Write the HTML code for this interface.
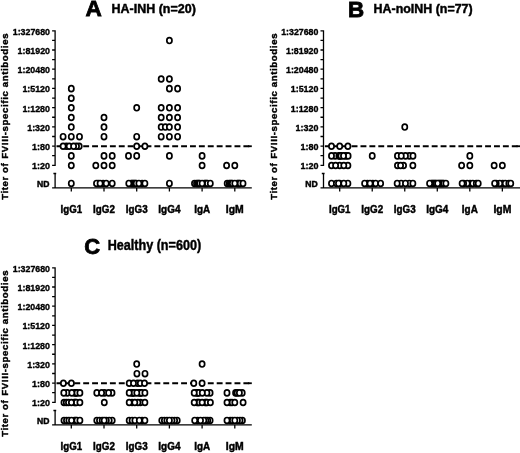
<!DOCTYPE html>
<html><head><meta charset="utf-8"><title>Figure</title>
<style>
html,body{margin:0;padding:0;background:#fff}
svg{display:block}
.b{font-family:"Liberation Sans",Arial,sans-serif;font-weight:bold;fill:#000;stroke:#000;stroke-width:0.45}
.L{stroke-width:0.8}
.yt{stroke-width:0.4}
.tk{stroke-width:0.35}
.ax{fill:none;stroke:#000;stroke-width:1.3}
.dash{fill:none;stroke:#000;stroke-width:1.8;stroke-dasharray:5.9 3;stroke-dashoffset:7.5}
.c ellipse{fill:#fff;stroke:#000;stroke-width:1.7}
</style></head><body>
<svg width="520" height="453" viewBox="0 0 520 453">
<rect width="520" height="453" fill="#fff"/>
<g transform="translate(0,0)">
<text x="93.6" y="16.2" text-anchor="middle" font-size="22.6" class="b L">A</text>
<text x="111.6" y="12.9" font-size="12.5" class="b" textLength="84.2" lengthAdjust="spacingAndGlyphs">HA-INH (n=20)</text>
<text transform="translate(8.4,199.8) rotate(-90)" font-size="9.6" class="b yt" textLength="36.4" lengthAdjust="spacing">Titer of</text>
<text transform="translate(8.4,158.7) rotate(-90)" font-size="9.6" class="b yt" textLength="125.2" lengthAdjust="spacing">FVIII-specific antibodies</text>
<path d="M55.1 30.19V165.9M55.1 172.9V188.5M55.1 165.3h-3M55.1 155.69h-3M55.1 146.08h-3M55.1 136.48h-3M55.1 126.87h-3M55.1 117.26h-3M55.1 107.65h-3M55.1 98.04h-3M55.1 88.44h-3M55.1 78.83h-3M55.1 69.22h-3M55.1 59.61h-3M55.1 50h-3M55.1 40.4h-3M55.1 30.79h-3M53.4 173.5h2.8M52.1 187.9H251.8M71.3 187.9v3.6M104 187.9v3.6M136.7 187.9v3.6M169.4 187.9v3.6M202.1 187.9v3.6M234.8 187.9v3.6" class="ax"/>
<path d="M55.1 146.23H251.8" class="dash"/>
<path d="M248 146.23H251.8" class="dash" style="stroke-dasharray:none"/>
<text x="50" y="34.69" text-anchor="end" font-size="9.1" class="b tk" textLength="37.2" lengthAdjust="spacingAndGlyphs">1:327680</text>
<text x="50" y="53.9" text-anchor="end" font-size="9.1" class="b tk" textLength="32.4" lengthAdjust="spacingAndGlyphs">1:81920</text>
<text x="50" y="73.12" text-anchor="end" font-size="9.1" class="b tk" textLength="32.4" lengthAdjust="spacingAndGlyphs">1:20480</text>
<text x="50" y="92.34" text-anchor="end" font-size="9.1" class="b tk" textLength="27.6" lengthAdjust="spacingAndGlyphs">1:5120</text>
<text x="50" y="111.55" text-anchor="end" font-size="9.1" class="b tk" textLength="27.6" lengthAdjust="spacingAndGlyphs">1:1280</text>
<text x="50" y="130.77" text-anchor="end" font-size="9.1" class="b tk" textLength="22.8" lengthAdjust="spacingAndGlyphs">1:320</text>
<text x="50" y="149.98" text-anchor="end" font-size="9.1" class="b tk" textLength="18" lengthAdjust="spacingAndGlyphs">1:80</text>
<text x="50" y="169.2" text-anchor="end" font-size="9.1" class="b tk" textLength="18" lengthAdjust="spacingAndGlyphs">1:20</text>
<text x="49.4" y="187" text-anchor="end" font-size="8.6" class="b">ND</text>
<text x="71.3" y="213" text-anchor="middle" font-size="10.2" class="b" textLength="21.5" lengthAdjust="spacingAndGlyphs">IgG1</text>
<text x="104" y="213" text-anchor="middle" font-size="10.2" class="b" textLength="21.8" lengthAdjust="spacingAndGlyphs">IgG2</text>
<text x="136.7" y="213" text-anchor="middle" font-size="10.2" class="b" textLength="21.8" lengthAdjust="spacingAndGlyphs">IgG3</text>
<text x="169.4" y="213" text-anchor="middle" font-size="10.2" class="b" textLength="22.1" lengthAdjust="spacingAndGlyphs">IgG4</text>
<text x="202.1" y="213" text-anchor="middle" font-size="10.2" class="b" textLength="15.9" lengthAdjust="spacingAndGlyphs">IgA</text>
<text x="234.8" y="213" text-anchor="middle" font-size="10.2" class="b" textLength="17.9" lengthAdjust="spacingAndGlyphs">IgM</text>
<g class="c">
<ellipse cx="71.3" cy="88.64" rx="2.58" ry="2.92"/>
<ellipse cx="71.3" cy="98.24" rx="2.58" ry="2.92"/>
<ellipse cx="71.3" cy="107.85" rx="2.58" ry="2.92"/>
<ellipse cx="71.3" cy="117.46" rx="2.58" ry="2.92"/>
<ellipse cx="71.3" cy="127.07" rx="2.58" ry="2.92"/>
<ellipse cx="63.1" cy="136.68" rx="2.58" ry="2.92"/>
<ellipse cx="71.3" cy="136.68" rx="2.58" ry="2.92"/>
<ellipse cx="79.5" cy="136.68" rx="2.58" ry="2.92"/>
<ellipse cx="66.3" cy="146.28" rx="2.58" ry="2.92"/>
<ellipse cx="79.2" cy="146.28" rx="2.58" ry="2.92"/>
<ellipse cx="76.5" cy="146.28" rx="2.58" ry="2.92"/>
<ellipse cx="63.1" cy="146.28" rx="2.58" ry="2.92"/>
<ellipse cx="69.2" cy="146.28" rx="2.58" ry="2.92"/>
<ellipse cx="73.6" cy="146.28" rx="2.58" ry="2.92"/>
<ellipse cx="71.3" cy="155.89" rx="2.58" ry="2.92"/>
<ellipse cx="71.3" cy="165.5" rx="2.58" ry="2.92"/>
<ellipse cx="71.3" cy="183.4" rx="2.58" ry="2.92"/>
<ellipse cx="104" cy="117.46" rx="2.58" ry="2.92"/>
<ellipse cx="104" cy="127.07" rx="2.58" ry="2.92"/>
<ellipse cx="104" cy="136.68" rx="2.58" ry="2.92"/>
<ellipse cx="104" cy="155.89" rx="2.58" ry="2.92"/>
<ellipse cx="112.2" cy="155.89" rx="2.58" ry="2.92"/>
<ellipse cx="95.8" cy="165.5" rx="2.58" ry="2.92"/>
<ellipse cx="104" cy="165.5" rx="2.58" ry="2.92"/>
<ellipse cx="112.2" cy="165.5" rx="2.58" ry="2.92"/>
<ellipse cx="98.2" cy="183.4" rx="2.58" ry="2.92"/>
<ellipse cx="103.1" cy="183.4" rx="2.58" ry="2.92"/>
<ellipse cx="96.5" cy="183.4" rx="2.58" ry="2.92"/>
<ellipse cx="112.2" cy="183.4" rx="2.58" ry="2.92"/>
<ellipse cx="100.1" cy="183.4" rx="2.58" ry="2.92"/>
<ellipse cx="106.2" cy="183.4" rx="2.58" ry="2.92"/>
<ellipse cx="136.7" cy="107.85" rx="2.58" ry="2.92"/>
<ellipse cx="136.7" cy="136.68" rx="2.58" ry="2.92"/>
<ellipse cx="136.7" cy="146.28" rx="2.58" ry="2.92"/>
<ellipse cx="144.9" cy="146.28" rx="2.58" ry="2.92"/>
<ellipse cx="128.5" cy="155.89" rx="2.58" ry="2.92"/>
<ellipse cx="136.7" cy="155.89" rx="2.58" ry="2.92"/>
<ellipse cx="131.2" cy="183.4" rx="2.58" ry="2.92"/>
<ellipse cx="132.2" cy="183.4" rx="2.58" ry="2.92"/>
<ellipse cx="133.2" cy="183.4" rx="2.58" ry="2.92"/>
<ellipse cx="134.2" cy="183.4" rx="2.58" ry="2.92"/>
<ellipse cx="135.2" cy="183.4" rx="2.58" ry="2.92"/>
<ellipse cx="136.2" cy="183.4" rx="2.58" ry="2.92"/>
<ellipse cx="142.1" cy="183.4" rx="2.58" ry="2.92"/>
<ellipse cx="128.8" cy="183.4" rx="2.58" ry="2.92"/>
<ellipse cx="144.9" cy="183.4" rx="2.58" ry="2.92"/>
<ellipse cx="138.9" cy="183.4" rx="2.58" ry="2.92"/>
<ellipse cx="169.4" cy="40.6" rx="2.58" ry="2.92"/>
<ellipse cx="161.2" cy="79.03" rx="2.58" ry="2.92"/>
<ellipse cx="169.4" cy="79.03" rx="2.58" ry="2.92"/>
<ellipse cx="169.4" cy="88.64" rx="2.58" ry="2.92"/>
<ellipse cx="177.6" cy="88.64" rx="2.58" ry="2.92"/>
<ellipse cx="161.2" cy="107.85" rx="2.58" ry="2.92"/>
<ellipse cx="169.4" cy="107.85" rx="2.58" ry="2.92"/>
<ellipse cx="177.6" cy="107.85" rx="2.58" ry="2.92"/>
<ellipse cx="161.2" cy="117.46" rx="2.58" ry="2.92"/>
<ellipse cx="169.4" cy="117.46" rx="2.58" ry="2.92"/>
<ellipse cx="177.6" cy="117.46" rx="2.58" ry="2.92"/>
<ellipse cx="161.2" cy="127.07" rx="2.58" ry="2.92"/>
<ellipse cx="165.3" cy="127.07" rx="2.58" ry="2.92"/>
<ellipse cx="169.4" cy="127.07" rx="2.58" ry="2.92"/>
<ellipse cx="177.6" cy="127.07" rx="2.58" ry="2.92"/>
<ellipse cx="161.2" cy="136.68" rx="2.58" ry="2.92"/>
<ellipse cx="169.4" cy="136.68" rx="2.58" ry="2.92"/>
<ellipse cx="177.6" cy="136.68" rx="2.58" ry="2.92"/>
<ellipse cx="169.4" cy="155.89" rx="2.58" ry="2.92"/>
<ellipse cx="169.4" cy="183.4" rx="2.58" ry="2.92"/>
<ellipse cx="202.1" cy="155.89" rx="2.58" ry="2.92"/>
<ellipse cx="202.1" cy="165.5" rx="2.58" ry="2.92"/>
<ellipse cx="194.5" cy="183.4" rx="2.58" ry="2.92"/>
<ellipse cx="196.5" cy="183.4" rx="2.58" ry="2.92"/>
<ellipse cx="197.7" cy="183.4" rx="2.58" ry="2.92"/>
<ellipse cx="198.7" cy="183.4" rx="2.58" ry="2.92"/>
<ellipse cx="199.7" cy="183.4" rx="2.58" ry="2.92"/>
<ellipse cx="204.5" cy="183.4" rx="2.58" ry="2.92"/>
<ellipse cx="205.5" cy="183.4" rx="2.58" ry="2.92"/>
<ellipse cx="206.5" cy="183.4" rx="2.58" ry="2.92"/>
<ellipse cx="207.5" cy="183.4" rx="2.58" ry="2.92"/>
<ellipse cx="202.1" cy="183.4" rx="2.58" ry="2.92"/>
<ellipse cx="210.3" cy="183.4" rx="2.58" ry="2.92"/>
<ellipse cx="226.6" cy="165.5" rx="2.58" ry="2.92"/>
<ellipse cx="234.8" cy="165.5" rx="2.58" ry="2.92"/>
<ellipse cx="227.2" cy="183.4" rx="2.58" ry="2.92"/>
<ellipse cx="229.2" cy="183.4" rx="2.58" ry="2.92"/>
<ellipse cx="230.4" cy="183.4" rx="2.58" ry="2.92"/>
<ellipse cx="231.4" cy="183.4" rx="2.58" ry="2.92"/>
<ellipse cx="232.4" cy="183.4" rx="2.58" ry="2.92"/>
<ellipse cx="237.2" cy="183.4" rx="2.58" ry="2.92"/>
<ellipse cx="238.2" cy="183.4" rx="2.58" ry="2.92"/>
<ellipse cx="239.2" cy="183.4" rx="2.58" ry="2.92"/>
<ellipse cx="240.2" cy="183.4" rx="2.58" ry="2.92"/>
<ellipse cx="234.8" cy="183.4" rx="2.58" ry="2.92"/>
<ellipse cx="243" cy="183.4" rx="2.58" ry="2.92"/>
</g>
</g>
<g transform="translate(268.4,0)">
<text x="87.6" y="16.8" text-anchor="middle" font-size="22.4" class="b L">B</text>
<text x="105.2" y="12.9" font-size="12.5" class="b" textLength="99" lengthAdjust="spacingAndGlyphs">HA-noINH (n=77)</text>
<text transform="translate(9.0,199.8) rotate(-90)" font-size="9.6" class="b yt" textLength="36.4" lengthAdjust="spacing">Titer of</text>
<text transform="translate(9.0,158.7) rotate(-90)" font-size="9.6" class="b yt" textLength="125.2" lengthAdjust="spacing">FVIII-specific antibodies</text>
<path d="M55.1 30.19V165.9M55.1 172.9V188.5M55.1 165.3h-3M55.1 155.69h-3M55.1 146.08h-3M55.1 136.48h-3M55.1 126.87h-3M55.1 117.26h-3M55.1 107.65h-3M55.1 98.04h-3M55.1 88.44h-3M55.1 78.83h-3M55.1 69.22h-3M55.1 59.61h-3M55.1 50h-3M55.1 40.4h-3M55.1 30.79h-3M53.4 173.5h2.8M52.1 187.9H251.8M71.3 187.9v3.6M103.83 187.9v3.6M136.36 187.9v3.6M168.89 187.9v3.6M201.42 187.9v3.6M233.95 187.9v3.6" class="ax"/>
<path d="M55.1 146.23H251.8" class="dash"/>
<path d="M248 146.23H251.8" class="dash" style="stroke-dasharray:none"/>
<text x="50" y="34.69" text-anchor="end" font-size="9.1" class="b tk" textLength="37.2" lengthAdjust="spacingAndGlyphs">1:327680</text>
<text x="50" y="53.9" text-anchor="end" font-size="9.1" class="b tk" textLength="32.4" lengthAdjust="spacingAndGlyphs">1:81920</text>
<text x="50" y="73.12" text-anchor="end" font-size="9.1" class="b tk" textLength="32.4" lengthAdjust="spacingAndGlyphs">1:20480</text>
<text x="50" y="92.34" text-anchor="end" font-size="9.1" class="b tk" textLength="27.6" lengthAdjust="spacingAndGlyphs">1:5120</text>
<text x="50" y="111.55" text-anchor="end" font-size="9.1" class="b tk" textLength="27.6" lengthAdjust="spacingAndGlyphs">1:1280</text>
<text x="50" y="130.77" text-anchor="end" font-size="9.1" class="b tk" textLength="22.8" lengthAdjust="spacingAndGlyphs">1:320</text>
<text x="50" y="149.98" text-anchor="end" font-size="9.1" class="b tk" textLength="18" lengthAdjust="spacingAndGlyphs">1:80</text>
<text x="50" y="169.2" text-anchor="end" font-size="9.1" class="b tk" textLength="18" lengthAdjust="spacingAndGlyphs">1:20</text>
<text x="49.4" y="187" text-anchor="end" font-size="8.6" class="b">ND</text>
<text x="71.3" y="213" text-anchor="middle" font-size="10.2" class="b" textLength="21.5" lengthAdjust="spacingAndGlyphs">IgG1</text>
<text x="103.83" y="213" text-anchor="middle" font-size="10.2" class="b" textLength="21.8" lengthAdjust="spacingAndGlyphs">IgG2</text>
<text x="136.36" y="213" text-anchor="middle" font-size="10.2" class="b" textLength="21.8" lengthAdjust="spacingAndGlyphs">IgG3</text>
<text x="168.89" y="213" text-anchor="middle" font-size="10.2" class="b" textLength="22.1" lengthAdjust="spacingAndGlyphs">IgG4</text>
<text x="201.42" y="213" text-anchor="middle" font-size="10.2" class="b" textLength="15.9" lengthAdjust="spacingAndGlyphs">IgA</text>
<text x="233.95" y="213" text-anchor="middle" font-size="10.2" class="b" textLength="17.9" lengthAdjust="spacingAndGlyphs">IgM</text>
<g class="c">
<ellipse cx="63.1" cy="146.28" rx="2.58" ry="2.92"/>
<ellipse cx="71.3" cy="146.28" rx="2.58" ry="2.92"/>
<ellipse cx="79.5" cy="146.28" rx="2.58" ry="2.92"/>
<ellipse cx="66.7" cy="155.89" rx="2.58" ry="2.92"/>
<ellipse cx="70.5" cy="155.89" rx="2.58" ry="2.92"/>
<ellipse cx="71.5" cy="155.89" rx="2.58" ry="2.92"/>
<ellipse cx="72.5" cy="155.89" rx="2.58" ry="2.92"/>
<ellipse cx="77.5" cy="155.89" rx="2.58" ry="2.92"/>
<ellipse cx="63.1" cy="155.89" rx="2.58" ry="2.92"/>
<ellipse cx="79.7" cy="155.89" rx="2.58" ry="2.92"/>
<ellipse cx="75.1" cy="155.89" rx="2.58" ry="2.92"/>
<ellipse cx="71.3" cy="165.5" rx="2.58" ry="2.92"/>
<ellipse cx="63.1" cy="165.5" rx="2.58" ry="2.92"/>
<ellipse cx="67.2" cy="165.5" rx="2.58" ry="2.92"/>
<ellipse cx="79.5" cy="165.5" rx="2.58" ry="2.92"/>
<ellipse cx="75.4" cy="165.5" rx="2.58" ry="2.92"/>
<ellipse cx="63.1" cy="183.4" rx="2.58" ry="2.92"/>
<ellipse cx="79.5" cy="183.4" rx="2.58" ry="2.92"/>
<ellipse cx="68" cy="183.4" rx="2.58" ry="2.92"/>
<ellipse cx="71.3" cy="183.4" rx="2.58" ry="2.92"/>
<ellipse cx="70.1" cy="183.4" rx="2.58" ry="2.92"/>
<ellipse cx="75.4" cy="183.4" rx="2.58" ry="2.92"/>
<ellipse cx="103.83" cy="155.89" rx="2.58" ry="2.92"/>
<ellipse cx="104.33" cy="183.4" rx="2.58" ry="2.92"/>
<ellipse cx="99.03" cy="183.4" rx="2.58" ry="2.92"/>
<ellipse cx="96.23" cy="183.4" rx="2.58" ry="2.92"/>
<ellipse cx="101.63" cy="183.4" rx="2.58" ry="2.92"/>
<ellipse cx="107.23" cy="183.4" rx="2.58" ry="2.92"/>
<ellipse cx="112.23" cy="183.4" rx="2.58" ry="2.92"/>
<ellipse cx="136.36" cy="127.07" rx="2.58" ry="2.92"/>
<ellipse cx="140.96" cy="155.89" rx="2.58" ry="2.92"/>
<ellipse cx="129.06" cy="155.89" rx="2.58" ry="2.92"/>
<ellipse cx="137.06" cy="155.89" rx="2.58" ry="2.92"/>
<ellipse cx="132.86" cy="155.89" rx="2.58" ry="2.92"/>
<ellipse cx="144.56" cy="155.89" rx="2.58" ry="2.92"/>
<ellipse cx="129.06" cy="165.5" rx="2.58" ry="2.92"/>
<ellipse cx="135.16" cy="165.5" rx="2.58" ry="2.92"/>
<ellipse cx="132.16" cy="165.5" rx="2.58" ry="2.92"/>
<ellipse cx="144.46" cy="165.5" rx="2.58" ry="2.92"/>
<ellipse cx="132.76" cy="183.4" rx="2.58" ry="2.92"/>
<ellipse cx="140.96" cy="183.4" rx="2.58" ry="2.92"/>
<ellipse cx="128.76" cy="183.4" rx="2.58" ry="2.92"/>
<ellipse cx="137.06" cy="183.4" rx="2.58" ry="2.92"/>
<ellipse cx="144.46" cy="183.4" rx="2.58" ry="2.92"/>
<ellipse cx="162.89" cy="183.4" rx="2.58" ry="2.92"/>
<ellipse cx="163.89" cy="183.4" rx="2.58" ry="2.92"/>
<ellipse cx="164.89" cy="183.4" rx="2.58" ry="2.92"/>
<ellipse cx="165.89" cy="183.4" rx="2.58" ry="2.92"/>
<ellipse cx="166.89" cy="183.4" rx="2.58" ry="2.92"/>
<ellipse cx="167.89" cy="183.4" rx="2.58" ry="2.92"/>
<ellipse cx="170.39" cy="183.4" rx="2.58" ry="2.92"/>
<ellipse cx="171.39" cy="183.4" rx="2.58" ry="2.92"/>
<ellipse cx="172.39" cy="183.4" rx="2.58" ry="2.92"/>
<ellipse cx="173.39" cy="183.4" rx="2.58" ry="2.92"/>
<ellipse cx="174.39" cy="183.4" rx="2.58" ry="2.92"/>
<ellipse cx="175.39" cy="183.4" rx="2.58" ry="2.92"/>
<ellipse cx="161.19" cy="183.4" rx="2.58" ry="2.92"/>
<ellipse cx="169.29" cy="183.4" rx="2.58" ry="2.92"/>
<ellipse cx="177.49" cy="183.4" rx="2.58" ry="2.92"/>
<ellipse cx="201.42" cy="155.89" rx="2.58" ry="2.92"/>
<ellipse cx="193.22" cy="165.5" rx="2.58" ry="2.92"/>
<ellipse cx="201.42" cy="165.5" rx="2.58" ry="2.92"/>
<ellipse cx="201.72" cy="183.4" rx="2.58" ry="2.92"/>
<ellipse cx="198.82" cy="183.4" rx="2.58" ry="2.92"/>
<ellipse cx="204.32" cy="183.4" rx="2.58" ry="2.92"/>
<ellipse cx="195.22" cy="183.4" rx="2.58" ry="2.92"/>
<ellipse cx="207.92" cy="183.4" rx="2.58" ry="2.92"/>
<ellipse cx="193.72" cy="183.4" rx="2.58" ry="2.92"/>
<ellipse cx="209.82" cy="183.4" rx="2.58" ry="2.92"/>
<ellipse cx="225.75" cy="165.5" rx="2.58" ry="2.92"/>
<ellipse cx="233.95" cy="165.5" rx="2.58" ry="2.92"/>
<ellipse cx="234.25" cy="183.4" rx="2.58" ry="2.92"/>
<ellipse cx="231.35" cy="183.4" rx="2.58" ry="2.92"/>
<ellipse cx="236.85" cy="183.4" rx="2.58" ry="2.92"/>
<ellipse cx="227.75" cy="183.4" rx="2.58" ry="2.92"/>
<ellipse cx="240.45" cy="183.4" rx="2.58" ry="2.92"/>
<ellipse cx="226.25" cy="183.4" rx="2.58" ry="2.92"/>
<ellipse cx="242.35" cy="183.4" rx="2.58" ry="2.92"/>
</g>
</g>
<g transform="translate(0,237)">
<text x="92.1" y="16.9" text-anchor="middle" font-size="22" class="b L">C</text>
<text x="107.7" y="12.5" font-size="13.9" class="b" textLength="93.4" lengthAdjust="spacingAndGlyphs">Healthy (n=600)</text>
<text transform="translate(8.4,199.8) rotate(-90)" font-size="9.6" class="b yt" textLength="36.4" lengthAdjust="spacing">Titer of</text>
<text transform="translate(8.4,158.7) rotate(-90)" font-size="9.6" class="b yt" textLength="125.2" lengthAdjust="spacing">FVIII-specific antibodies</text>
<path d="M55.1 30.19V165.9M55.1 172.9V188.5M55.1 165.3h-3M55.1 155.69h-3M55.1 146.08h-3M55.1 136.48h-3M55.1 126.87h-3M55.1 117.26h-3M55.1 107.65h-3M55.1 98.04h-3M55.1 88.44h-3M55.1 78.83h-3M55.1 69.22h-3M55.1 59.61h-3M55.1 50h-3M55.1 40.4h-3M55.1 30.79h-3M53.4 173.5h2.8M52.1 187.9H251.8M71.3 187.9v3.6M104 187.9v3.6M136.7 187.9v3.6M169.4 187.9v3.6M202.1 187.9v3.6M234.8 187.9v3.6" class="ax"/>
<path d="M55.1 146.23H251.8" class="dash"/>
<path d="M248 146.23H251.8" class="dash" style="stroke-dasharray:none"/>
<text x="50" y="34.69" text-anchor="end" font-size="9.1" class="b tk" textLength="37.2" lengthAdjust="spacingAndGlyphs">1:327680</text>
<text x="50" y="53.9" text-anchor="end" font-size="9.1" class="b tk" textLength="32.4" lengthAdjust="spacingAndGlyphs">1:81920</text>
<text x="50" y="73.12" text-anchor="end" font-size="9.1" class="b tk" textLength="32.4" lengthAdjust="spacingAndGlyphs">1:20480</text>
<text x="50" y="92.34" text-anchor="end" font-size="9.1" class="b tk" textLength="27.6" lengthAdjust="spacingAndGlyphs">1:5120</text>
<text x="50" y="111.55" text-anchor="end" font-size="9.1" class="b tk" textLength="27.6" lengthAdjust="spacingAndGlyphs">1:1280</text>
<text x="50" y="130.77" text-anchor="end" font-size="9.1" class="b tk" textLength="22.8" lengthAdjust="spacingAndGlyphs">1:320</text>
<text x="50" y="149.98" text-anchor="end" font-size="9.1" class="b tk" textLength="18" lengthAdjust="spacingAndGlyphs">1:80</text>
<text x="50" y="169.2" text-anchor="end" font-size="9.1" class="b tk" textLength="18" lengthAdjust="spacingAndGlyphs">1:20</text>
<text x="49.4" y="187" text-anchor="end" font-size="8.6" class="b">ND</text>
<text x="71.3" y="213" text-anchor="middle" font-size="10.2" class="b" textLength="21.5" lengthAdjust="spacingAndGlyphs">IgG1</text>
<text x="104" y="213" text-anchor="middle" font-size="10.2" class="b" textLength="21.8" lengthAdjust="spacingAndGlyphs">IgG2</text>
<text x="136.7" y="213" text-anchor="middle" font-size="10.2" class="b" textLength="21.8" lengthAdjust="spacingAndGlyphs">IgG3</text>
<text x="169.4" y="213" text-anchor="middle" font-size="10.2" class="b" textLength="22.1" lengthAdjust="spacingAndGlyphs">IgG4</text>
<text x="202.1" y="213" text-anchor="middle" font-size="10.2" class="b" textLength="15.9" lengthAdjust="spacingAndGlyphs">IgA</text>
<text x="234.8" y="213" text-anchor="middle" font-size="10.2" class="b" textLength="17.9" lengthAdjust="spacingAndGlyphs">IgM</text>
<g class="c">
<ellipse cx="63.4" cy="146.28" rx="2.58" ry="2.92"/>
<ellipse cx="71.4" cy="146.28" rx="2.58" ry="2.92"/>
<ellipse cx="67.3" cy="155.89" rx="2.58" ry="2.92"/>
<ellipse cx="74.9" cy="155.89" rx="2.58" ry="2.92"/>
<ellipse cx="75.9" cy="155.89" rx="2.58" ry="2.92"/>
<ellipse cx="76.9" cy="155.89" rx="2.58" ry="2.92"/>
<ellipse cx="63.8" cy="155.89" rx="2.58" ry="2.92"/>
<ellipse cx="71.8" cy="155.89" rx="2.58" ry="2.92"/>
<ellipse cx="79.9" cy="155.89" rx="2.58" ry="2.92"/>
<ellipse cx="64" cy="165.5" rx="2.58" ry="2.92"/>
<ellipse cx="66.3" cy="165.5" rx="2.58" ry="2.92"/>
<ellipse cx="68.5" cy="165.5" rx="2.58" ry="2.92"/>
<ellipse cx="74.3" cy="165.5" rx="2.58" ry="2.92"/>
<ellipse cx="75.3" cy="165.5" rx="2.58" ry="2.92"/>
<ellipse cx="76.3" cy="165.5" rx="2.58" ry="2.92"/>
<ellipse cx="71.4" cy="165.5" rx="2.58" ry="2.92"/>
<ellipse cx="79.9" cy="165.5" rx="2.58" ry="2.92"/>
<ellipse cx="64" cy="183.4" rx="2.58" ry="2.92"/>
<ellipse cx="66.5" cy="183.4" rx="2.58" ry="2.92"/>
<ellipse cx="68.9" cy="183.4" rx="2.58" ry="2.92"/>
<ellipse cx="74.5" cy="183.4" rx="2.58" ry="2.92"/>
<ellipse cx="75.7" cy="183.4" rx="2.58" ry="2.92"/>
<ellipse cx="76.9" cy="183.4" rx="2.58" ry="2.92"/>
<ellipse cx="71.5" cy="183.4" rx="2.58" ry="2.92"/>
<ellipse cx="79.9" cy="183.4" rx="2.58" ry="2.92"/>
<ellipse cx="104.5" cy="155.89" rx="2.58" ry="2.92"/>
<ellipse cx="96.8" cy="155.89" rx="2.58" ry="2.92"/>
<ellipse cx="101.6" cy="155.89" rx="2.58" ry="2.92"/>
<ellipse cx="112" cy="155.89" rx="2.58" ry="2.92"/>
<ellipse cx="108.6" cy="155.89" rx="2.58" ry="2.92"/>
<ellipse cx="104.3" cy="165.5" rx="2.58" ry="2.92"/>
<ellipse cx="96.8" cy="183.4" rx="2.58" ry="2.92"/>
<ellipse cx="112.2" cy="183.4" rx="2.58" ry="2.92"/>
<ellipse cx="99.5" cy="183.4" rx="2.58" ry="2.92"/>
<ellipse cx="109.2" cy="183.4" rx="2.58" ry="2.92"/>
<ellipse cx="102.2" cy="183.4" rx="2.58" ry="2.92"/>
<ellipse cx="106.3" cy="183.4" rx="2.58" ry="2.92"/>
<ellipse cx="104.2" cy="183.4" rx="2.58" ry="2.92"/>
<ellipse cx="136.7" cy="127.07" rx="2.58" ry="2.92"/>
<ellipse cx="136.9" cy="136.68" rx="2.58" ry="2.92"/>
<ellipse cx="145" cy="136.68" rx="2.58" ry="2.92"/>
<ellipse cx="137.5" cy="146.28" rx="2.58" ry="2.92"/>
<ellipse cx="140.3" cy="146.28" rx="2.58" ry="2.92"/>
<ellipse cx="129.2" cy="146.28" rx="2.58" ry="2.92"/>
<ellipse cx="133.5" cy="146.28" rx="2.58" ry="2.92"/>
<ellipse cx="144.5" cy="146.28" rx="2.58" ry="2.92"/>
<ellipse cx="131.9" cy="155.89" rx="2.58" ry="2.92"/>
<ellipse cx="132.9" cy="155.89" rx="2.58" ry="2.92"/>
<ellipse cx="133.9" cy="155.89" rx="2.58" ry="2.92"/>
<ellipse cx="139.5" cy="155.89" rx="2.58" ry="2.92"/>
<ellipse cx="140.5" cy="155.89" rx="2.58" ry="2.92"/>
<ellipse cx="141.5" cy="155.89" rx="2.58" ry="2.92"/>
<ellipse cx="129.2" cy="155.89" rx="2.58" ry="2.92"/>
<ellipse cx="144.9" cy="155.89" rx="2.58" ry="2.92"/>
<ellipse cx="136.8" cy="155.89" rx="2.58" ry="2.92"/>
<ellipse cx="140.5" cy="165.5" rx="2.58" ry="2.92"/>
<ellipse cx="137.9" cy="165.5" rx="2.58" ry="2.92"/>
<ellipse cx="132.1" cy="165.5" rx="2.58" ry="2.92"/>
<ellipse cx="129.2" cy="165.5" rx="2.58" ry="2.92"/>
<ellipse cx="134.8" cy="165.5" rx="2.58" ry="2.92"/>
<ellipse cx="144.9" cy="165.5" rx="2.58" ry="2.92"/>
<ellipse cx="129.2" cy="183.4" rx="2.58" ry="2.92"/>
<ellipse cx="132.1" cy="183.4" rx="2.58" ry="2.92"/>
<ellipse cx="134.9" cy="183.4" rx="2.58" ry="2.92"/>
<ellipse cx="142.1" cy="183.4" rx="2.58" ry="2.92"/>
<ellipse cx="144.9" cy="183.4" rx="2.58" ry="2.92"/>
<ellipse cx="139.3" cy="183.4" rx="2.58" ry="2.92"/>
<ellipse cx="161.8" cy="183.4" rx="2.58" ry="2.92"/>
<ellipse cx="177.2" cy="183.4" rx="2.58" ry="2.92"/>
<ellipse cx="164.4" cy="183.4" rx="2.58" ry="2.92"/>
<ellipse cx="174.6" cy="183.4" rx="2.58" ry="2.92"/>
<ellipse cx="166.9" cy="183.4" rx="2.58" ry="2.92"/>
<ellipse cx="172" cy="183.4" rx="2.58" ry="2.92"/>
<ellipse cx="169.4" cy="183.4" rx="2.58" ry="2.92"/>
<ellipse cx="202.1" cy="127.07" rx="2.58" ry="2.92"/>
<ellipse cx="193.8" cy="146.28" rx="2.58" ry="2.92"/>
<ellipse cx="202.1" cy="146.28" rx="2.58" ry="2.92"/>
<ellipse cx="196.8" cy="155.89" rx="2.58" ry="2.92"/>
<ellipse cx="197.8" cy="155.89" rx="2.58" ry="2.92"/>
<ellipse cx="198.8" cy="155.89" rx="2.58" ry="2.92"/>
<ellipse cx="210.1" cy="155.89" rx="2.58" ry="2.92"/>
<ellipse cx="206.9" cy="155.89" rx="2.58" ry="2.92"/>
<ellipse cx="194.2" cy="155.89" rx="2.58" ry="2.92"/>
<ellipse cx="202.3" cy="155.89" rx="2.58" ry="2.92"/>
<ellipse cx="197.1" cy="165.5" rx="2.58" ry="2.92"/>
<ellipse cx="198.1" cy="165.5" rx="2.58" ry="2.92"/>
<ellipse cx="199.1" cy="165.5" rx="2.58" ry="2.92"/>
<ellipse cx="205.1" cy="165.5" rx="2.58" ry="2.92"/>
<ellipse cx="206.1" cy="165.5" rx="2.58" ry="2.92"/>
<ellipse cx="207.1" cy="165.5" rx="2.58" ry="2.92"/>
<ellipse cx="194.2" cy="165.5" rx="2.58" ry="2.92"/>
<ellipse cx="210.4" cy="165.5" rx="2.58" ry="2.92"/>
<ellipse cx="202.1" cy="165.5" rx="2.58" ry="2.92"/>
<ellipse cx="210.1" cy="183.4" rx="2.58" ry="2.92"/>
<ellipse cx="207.7" cy="183.4" rx="2.58" ry="2.92"/>
<ellipse cx="205.8" cy="183.4" rx="2.58" ry="2.92"/>
<ellipse cx="203.8" cy="183.4" rx="2.58" ry="2.92"/>
<ellipse cx="197.5" cy="183.4" rx="2.58" ry="2.92"/>
<ellipse cx="194.7" cy="183.4" rx="2.58" ry="2.92"/>
<ellipse cx="200.5" cy="183.4" rx="2.58" ry="2.92"/>
<ellipse cx="227" cy="155.89" rx="2.58" ry="2.92"/>
<ellipse cx="235.6" cy="155.89" rx="2.58" ry="2.92"/>
<ellipse cx="242.2" cy="155.89" rx="2.58" ry="2.92"/>
<ellipse cx="237.2" cy="155.89" rx="2.58" ry="2.92"/>
<ellipse cx="239.4" cy="155.89" rx="2.58" ry="2.92"/>
<ellipse cx="230.2" cy="165.5" rx="2.58" ry="2.92"/>
<ellipse cx="232" cy="165.5" rx="2.58" ry="2.92"/>
<ellipse cx="227" cy="165.5" rx="2.58" ry="2.92"/>
<ellipse cx="234.8" cy="165.5" rx="2.58" ry="2.92"/>
<ellipse cx="243.1" cy="165.5" rx="2.58" ry="2.92"/>
<ellipse cx="242.4" cy="183.4" rx="2.58" ry="2.92"/>
<ellipse cx="240" cy="183.4" rx="2.58" ry="2.92"/>
<ellipse cx="230.2" cy="183.4" rx="2.58" ry="2.92"/>
<ellipse cx="232.4" cy="183.4" rx="2.58" ry="2.92"/>
<ellipse cx="237.4" cy="183.4" rx="2.58" ry="2.92"/>
<ellipse cx="227" cy="183.4" rx="2.58" ry="2.92"/>
<ellipse cx="234.8" cy="183.4" rx="2.58" ry="2.92"/>
</g>
</g>
</svg>
</body></html>
